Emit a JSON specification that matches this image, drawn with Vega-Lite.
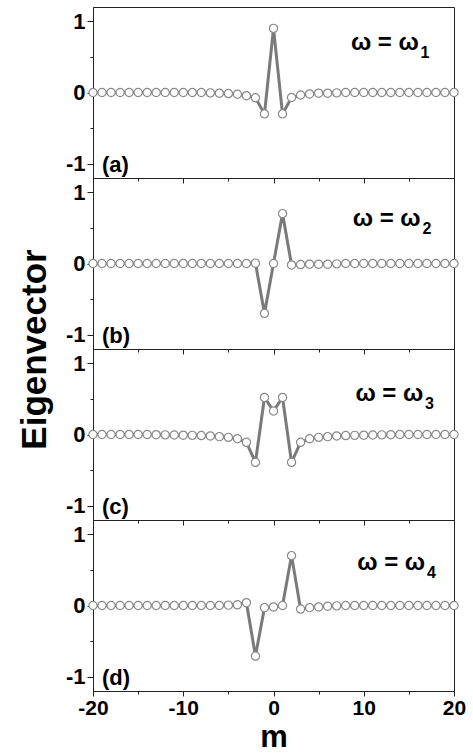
{
  "$schema": "https://vega.github.io/schema/vega-lite/v6.json",
  "background": "white",
  "padding": {"left": 16, "top": 6, "right": 5, "bottom": 0},
  "spacing": 0,
  "bounds": "flush",
  "datasets": {
    "labels": [
      {"p": "a", "tag": "(a)", "omega": "ω = ω", "sub": "1"},
      {"p": "b", "tag": "(b)", "omega": "ω = ω", "sub": "2"},
      {"p": "c", "tag": "(c)", "omega": "ω = ω", "sub": "3"},
      {"p": "d", "tag": "(d)", "omega": "ω = ω", "sub": "4"}
    ],
    "vec": [
      {"p":"a","m":-20,"v":0},{"p":"a","m":-19,"v":0},{"p":"a","m":-18,"v":0},{"p":"a","m":-17,"v":0},{"p":"a","m":-16,"v":0},{"p":"a","m":-15,"v":0},{"p":"a","m":-14,"v":0},{"p":"a","m":-13,"v":0},{"p":"a","m":-12,"v":0},{"p":"a","m":-11,"v":0},{"p":"a","m":-10,"v":0},{"p":"a","m":-9,"v":0},{"p":"a","m":-8,"v":0},{"p":"a","m":-7,"v":-0.005},{"p":"a","m":-6,"v":-0.01},{"p":"a","m":-5,"v":-0.015},{"p":"a","m":-4,"v":-0.025},{"p":"a","m":-3,"v":-0.045},{"p":"a","m":-2,"v":-0.075},{"p":"a","m":-1,"v":-0.3},{"p":"a","m":0,"v":0.9},{"p":"a","m":1,"v":-0.3},{"p":"a","m":2,"v":-0.07},{"p":"a","m":3,"v":-0.035},{"p":"a","m":4,"v":-0.02},{"p":"a","m":5,"v":-0.01},{"p":"a","m":6,"v":-0.01},{"p":"a","m":7,"v":-0.005},{"p":"a","m":8,"v":0},{"p":"a","m":9,"v":0},{"p":"a","m":10,"v":0},{"p":"a","m":11,"v":0},{"p":"a","m":12,"v":0},{"p":"a","m":13,"v":0},{"p":"a","m":14,"v":0},{"p":"a","m":15,"v":0},{"p":"a","m":16,"v":0},{"p":"a","m":17,"v":0},{"p":"a","m":18,"v":0},{"p":"a","m":19,"v":0},{"p":"a","m":20,"v":0},
      {"p":"b","m":-20,"v":0},{"p":"b","m":-19,"v":0},{"p":"b","m":-18,"v":0},{"p":"b","m":-17,"v":0},{"p":"b","m":-16,"v":0},{"p":"b","m":-15,"v":0},{"p":"b","m":-14,"v":0},{"p":"b","m":-13,"v":0},{"p":"b","m":-12,"v":0},{"p":"b","m":-11,"v":0},{"p":"b","m":-10,"v":0},{"p":"b","m":-9,"v":0},{"p":"b","m":-8,"v":0},{"p":"b","m":-7,"v":0},{"p":"b","m":-6,"v":0},{"p":"b","m":-5,"v":0},{"p":"b","m":-4,"v":0},{"p":"b","m":-3,"v":0},{"p":"b","m":-2,"v":0.005},{"p":"b","m":-1,"v":-0.7},{"p":"b","m":0,"v":0},{"p":"b","m":1,"v":0.7},{"p":"b","m":2,"v":-0.02},{"p":"b","m":3,"v":-0.015},{"p":"b","m":4,"v":-0.01},{"p":"b","m":5,"v":-0.01},{"p":"b","m":6,"v":-0.01},{"p":"b","m":7,"v":-0.005},{"p":"b","m":8,"v":0},{"p":"b","m":9,"v":0},{"p":"b","m":10,"v":0},{"p":"b","m":11,"v":0},{"p":"b","m":12,"v":0},{"p":"b","m":13,"v":0},{"p":"b","m":14,"v":0},{"p":"b","m":15,"v":0},{"p":"b","m":16,"v":0},{"p":"b","m":17,"v":0},{"p":"b","m":18,"v":0},{"p":"b","m":19,"v":0},{"p":"b","m":20,"v":0},
      {"p":"c","m":-20,"v":0},{"p":"c","m":-19,"v":0},{"p":"c","m":-18,"v":0},{"p":"c","m":-17,"v":0},{"p":"c","m":-16,"v":0},{"p":"c","m":-15,"v":0},{"p":"c","m":-14,"v":0},{"p":"c","m":-13,"v":-0.003},{"p":"c","m":-12,"v":-0.005},{"p":"c","m":-11,"v":-0.007},{"p":"c","m":-10,"v":-0.01},{"p":"c","m":-9,"v":-0.012},{"p":"c","m":-8,"v":-0.015},{"p":"c","m":-7,"v":-0.02},{"p":"c","m":-6,"v":-0.03},{"p":"c","m":-5,"v":-0.04},{"p":"c","m":-4,"v":-0.06},{"p":"c","m":-3,"v":-0.11},{"p":"c","m":-2,"v":-0.39},{"p":"c","m":-1,"v":0.52},{"p":"c","m":0,"v":0.33},{"p":"c","m":1,"v":0.52},{"p":"c","m":2,"v":-0.39},{"p":"c","m":3,"v":-0.11},{"p":"c","m":4,"v":-0.06},{"p":"c","m":5,"v":-0.04},{"p":"c","m":6,"v":-0.03},{"p":"c","m":7,"v":-0.02},{"p":"c","m":8,"v":-0.015},{"p":"c","m":9,"v":-0.012},{"p":"c","m":10,"v":-0.01},{"p":"c","m":11,"v":-0.007},{"p":"c","m":12,"v":-0.005},{"p":"c","m":13,"v":-0.003},{"p":"c","m":14,"v":0},{"p":"c","m":15,"v":0},{"p":"c","m":16,"v":0},{"p":"c","m":17,"v":0},{"p":"c","m":18,"v":0},{"p":"c","m":19,"v":0},{"p":"c","m":20,"v":0},
      {"p":"d","m":-20,"v":0},{"p":"d","m":-19,"v":0},{"p":"d","m":-18,"v":0},{"p":"d","m":-17,"v":0},{"p":"d","m":-16,"v":0},{"p":"d","m":-15,"v":0},{"p":"d","m":-14,"v":0},{"p":"d","m":-13,"v":0},{"p":"d","m":-12,"v":0},{"p":"d","m":-11,"v":0},{"p":"d","m":-10,"v":0},{"p":"d","m":-9,"v":0},{"p":"d","m":-8,"v":0},{"p":"d","m":-7,"v":0},{"p":"d","m":-6,"v":0},{"p":"d","m":-5,"v":0.005},{"p":"d","m":-4,"v":0.01},{"p":"d","m":-3,"v":0.04},{"p":"d","m":-2,"v":-0.71},{"p":"d","m":-1,"v":-0.03},{"p":"d","m":0,"v":-0.02},{"p":"d","m":1,"v":0},{"p":"d","m":2,"v":0.7},{"p":"d","m":3,"v":-0.05},{"p":"d","m":4,"v":-0.03},{"p":"d","m":5,"v":-0.02},{"p":"d","m":6,"v":-0.01},{"p":"d","m":7,"v":-0.005},{"p":"d","m":8,"v":0},{"p":"d","m":9,"v":0},{"p":"d","m":10,"v":0},{"p":"d","m":11,"v":0},{"p":"d","m":12,"v":0},{"p":"d","m":13,"v":0},{"p":"d","m":14,"v":0},{"p":"d","m":15,"v":0},{"p":"d","m":16,"v":0},{"p":"d","m":17,"v":0},{"p":"d","m":18,"v":0},{"p":"d","m":19,"v":0},{"p":"d","m":20,"v":0}
    ]
  },
  "vconcat": [
    {
      "width": 361, "height": 171,
      "layer": [
        {"data": {"name": "vec"}, "transform": [{"filter": "datum.p == 'a'"}],
         "mark": {"type": "line", "color": "#7a7a7a", "strokeWidth": 3},
         "encoding": {
           "x": {"field": "m", "type": "quantitative", "scale": {"domain": [-20, 20], "nice": false, "zero": false},
                 "axis": {"values": [-20,-15,-10,-5,0,5,10,15,20], "labels": false, "title": null, "tickSize": {"condition": {"test": "abs(datum.value) % 10 == 5", "value": 3}, "value": 5}}},
           "y": {"field": "v", "type": "quantitative", "scale": {"domain": [-1.2, 1.2], "nice": false},
                 "axis": {"values": [-1,-0.5,0,0.5,1], "title": null, "labelExpr": "abs(datum.value) == 0.5 ? '' : toString(datum.value)", "tickSize": {"condition": {"test": "abs(datum.value) == 0.5", "value": 3}, "value": 6}}}
         }},
        {"data": {"name": "vec"}, "transform": [{"filter": "datum.p == 'a'"}],
         "mark": {"type": "circle", "fill": "white", "stroke": "#8a8a8a", "strokeWidth": 1.2, "opacity": 1, "size": 68},
         "encoding": {"x": {"field": "m", "type": "quantitative", "scale": {"domain": [-20, 20], "nice": false, "zero": false}}, "y": {"field": "v", "type": "quantitative", "scale": {"domain": [-1.2, 1.2], "nice": false}}}},
        {"data": {"name": "labels"}, "transform": [{"filter": "datum.p == 'a'"}],
         "mark": {"type": "text", "align": "left", "baseline": "middle", "font": "Liberation Sans", "fontWeight": "bold", "fontSize": 22, "color": "black"},
         "encoding": {"x": {"datum": -19.0, "scale": {"domain": [-20, 20], "nice": false, "zero": false}}, "y": {"datum": -1.02, "scale": {"domain": [-1.2, 1.2], "nice": false}}, "text": {"field": "tag"}}},
        {"data": {"name": "labels"}, "transform": [{"filter": "datum.p == 'a'"}],
         "mark": {"type": "text", "align": "right", "baseline": "middle", "font": "Liberation Sans", "fontWeight": "bold", "fontSize": 24, "color": "black"},
         "encoding": {"x": {"datum": 16.1}, "y": {"datum": 0.7}, "text": {"field": "omega"}}},
        {"data": {"name": "labels"}, "transform": [{"filter": "datum.p == 'a'"}],
         "mark": {"type": "text", "align": "left", "baseline": "middle", "font": "Liberation Sans", "fontWeight": "bold", "fontSize": 16, "color": "black"},
         "encoding": {"x": {"datum": 16.3}, "y": {"datum": 0.56}, "text": {"field": "sub"}}}
      ]
    },
    {
      "width": 361, "height": 171,
      "layer": [
        {"data": {"name": "vec"}, "transform": [{"filter": "datum.p == 'b'"}],
         "mark": {"type": "line", "color": "#7a7a7a", "strokeWidth": 3},
         "encoding": {
           "x": {"field": "m", "type": "quantitative", "scale": {"domain": [-20, 20], "nice": false, "zero": false},
                 "axis": {"values": [-20,-15,-10,-5,0,5,10,15,20], "labels": false, "title": null, "tickSize": {"condition": {"test": "abs(datum.value) % 10 == 5", "value": 3}, "value": 5}}},
           "y": {"field": "v", "type": "quantitative", "scale": {"domain": [-1.2, 1.2], "nice": false},
                 "axis": {"values": [-1,-0.5,0,0.5,1], "title": "Eigenvector", "titleFontSize": 35, "titleY": 171, "titlePadding": 13, "labelExpr": "abs(datum.value) == 0.5 ? '' : toString(datum.value)", "tickSize": {"condition": {"test": "abs(datum.value) == 0.5", "value": 3}, "value": 6}}}
         }},
        {"data": {"name": "vec"}, "transform": [{"filter": "datum.p == 'b'"}],
         "mark": {"type": "circle", "fill": "white", "stroke": "#8a8a8a", "strokeWidth": 1.2, "opacity": 1, "size": 68},
         "encoding": {"x": {"field": "m", "type": "quantitative", "scale": {"domain": [-20, 20], "nice": false, "zero": false}}, "y": {"field": "v", "type": "quantitative", "scale": {"domain": [-1.2, 1.2], "nice": false}}}},
        {"data": {"name": "labels"}, "transform": [{"filter": "datum.p == 'b'"}],
         "mark": {"type": "text", "align": "left", "baseline": "middle", "font": "Liberation Sans", "fontWeight": "bold", "fontSize": 22, "color": "black"},
         "encoding": {"x": {"datum": -19.0, "scale": {"domain": [-20, 20], "nice": false, "zero": false}}, "y": {"datum": -1.02, "scale": {"domain": [-1.2, 1.2], "nice": false}}, "text": {"field": "tag"}}},
        {"data": {"name": "labels"}, "transform": [{"filter": "datum.p == 'b'"}],
         "mark": {"type": "text", "align": "right", "baseline": "middle", "font": "Liberation Sans", "fontWeight": "bold", "fontSize": 24, "color": "black"},
         "encoding": {"x": {"datum": 16.3}, "y": {"datum": 0.62}, "text": {"field": "omega"}}},
        {"data": {"name": "labels"}, "transform": [{"filter": "datum.p == 'b'"}],
         "mark": {"type": "text", "align": "left", "baseline": "middle", "font": "Liberation Sans", "fontWeight": "bold", "fontSize": 16, "color": "black"},
         "encoding": {"x": {"datum": 16.5}, "y": {"datum": 0.48}, "text": {"field": "sub"}}}
      ]
    },
    {
      "width": 361, "height": 171,
      "layer": [
        {"data": {"name": "vec"}, "transform": [{"filter": "datum.p == 'c'"}],
         "mark": {"type": "line", "color": "#7a7a7a", "strokeWidth": 3},
         "encoding": {
           "x": {"field": "m", "type": "quantitative", "scale": {"domain": [-20, 20], "nice": false, "zero": false},
                 "axis": {"values": [-20,-15,-10,-5,0,5,10,15,20], "labels": false, "title": null, "tickSize": {"condition": {"test": "abs(datum.value) % 10 == 5", "value": 3}, "value": 5}}},
           "y": {"field": "v", "type": "quantitative", "scale": {"domain": [-1.2, 1.2], "nice": false},
                 "axis": {"values": [-1,-0.5,0,0.5,1], "title": null, "labelExpr": "abs(datum.value) == 0.5 ? '' : toString(datum.value)", "tickSize": {"condition": {"test": "abs(datum.value) == 0.5", "value": 3}, "value": 6}}}
         }},
        {"data": {"name": "vec"}, "transform": [{"filter": "datum.p == 'c'"}],
         "mark": {"type": "circle", "fill": "white", "stroke": "#8a8a8a", "strokeWidth": 1.2, "opacity": 1, "size": 68},
         "encoding": {"x": {"field": "m", "type": "quantitative", "scale": {"domain": [-20, 20], "nice": false, "zero": false}}, "y": {"field": "v", "type": "quantitative", "scale": {"domain": [-1.2, 1.2], "nice": false}}}},
        {"data": {"name": "labels"}, "transform": [{"filter": "datum.p == 'c'"}],
         "mark": {"type": "text", "align": "left", "baseline": "middle", "font": "Liberation Sans", "fontWeight": "bold", "fontSize": 22, "color": "black"},
         "encoding": {"x": {"datum": -19.0, "scale": {"domain": [-20, 20], "nice": false, "zero": false}}, "y": {"datum": -1.02, "scale": {"domain": [-1.2, 1.2], "nice": false}}, "text": {"field": "tag"}}},
        {"data": {"name": "labels"}, "transform": [{"filter": "datum.p == 'c'"}],
         "mark": {"type": "text", "align": "right", "baseline": "middle", "font": "Liberation Sans", "fontWeight": "bold", "fontSize": 24, "color": "black"},
         "encoding": {"x": {"datum": 16.6}, "y": {"datum": 0.57}, "text": {"field": "omega"}}},
        {"data": {"name": "labels"}, "transform": [{"filter": "datum.p == 'c'"}],
         "mark": {"type": "text", "align": "left", "baseline": "middle", "font": "Liberation Sans", "fontWeight": "bold", "fontSize": 16, "color": "black"},
         "encoding": {"x": {"datum": 16.8}, "y": {"datum": 0.43}, "text": {"field": "sub"}}}
      ]
    },
    {
      "width": 361, "height": 171,
      "layer": [
        {"data": {"name": "vec"}, "transform": [{"filter": "datum.p == 'd'"}],
         "mark": {"type": "line", "color": "#7a7a7a", "strokeWidth": 3},
         "encoding": {
           "x": {"field": "m", "type": "quantitative", "scale": {"domain": [-20, 20], "nice": false, "zero": false},
                 "axis": {"values": [-20,-15,-10,-5,0,5,10,15,20], "title": "m", "titleFontSize": 31, "titlePadding": 4, "labelFontSize": 21, "labelFlush": false, "labelExpr": "abs(datum.value) % 10 == 5 ? '' : toString(datum.value)", "labelPadding": 1, "tickSize": {"condition": {"test": "abs(datum.value) % 10 == 5", "value": 3}, "value": 5}}},
           "y": {"field": "v", "type": "quantitative", "scale": {"domain": [-1.2, 1.2], "nice": false},
                 "axis": {"values": [-1,-0.5,0,0.5,1], "title": null, "labelExpr": "abs(datum.value) == 0.5 ? '' : toString(datum.value)", "tickSize": {"condition": {"test": "abs(datum.value) == 0.5", "value": 3}, "value": 6}}}
         }},
        {"data": {"name": "vec"}, "transform": [{"filter": "datum.p == 'd'"}],
         "mark": {"type": "circle", "fill": "white", "stroke": "#8a8a8a", "strokeWidth": 1.2, "opacity": 1, "size": 68},
         "encoding": {"x": {"field": "m", "type": "quantitative", "scale": {"domain": [-20, 20], "nice": false, "zero": false}}, "y": {"field": "v", "type": "quantitative", "scale": {"domain": [-1.2, 1.2], "nice": false}}}},
        {"data": {"name": "labels"}, "transform": [{"filter": "datum.p == 'd'"}],
         "mark": {"type": "text", "align": "left", "baseline": "middle", "font": "Liberation Sans", "fontWeight": "bold", "fontSize": 22, "color": "black"},
         "encoding": {"x": {"datum": -19.0, "scale": {"domain": [-20, 20], "nice": false, "zero": false}}, "y": {"datum": -1.02, "scale": {"domain": [-1.2, 1.2], "nice": false}}, "text": {"field": "tag"}}},
        {"data": {"name": "labels"}, "transform": [{"filter": "datum.p == 'd'"}],
         "mark": {"type": "text", "align": "right", "baseline": "middle", "font": "Liberation Sans", "fontWeight": "bold", "fontSize": 24, "color": "black"},
         "encoding": {"x": {"datum": 16.8}, "y": {"datum": 0.59}, "text": {"field": "omega"}}},
        {"data": {"name": "labels"}, "transform": [{"filter": "datum.p == 'd'"}],
         "mark": {"type": "text", "align": "left", "baseline": "middle", "font": "Liberation Sans", "fontWeight": "bold", "fontSize": 16, "color": "black"},
         "encoding": {"x": {"datum": 17.0}, "y": {"datum": 0.45}, "text": {"field": "sub"}}}
      ]
    }
  ],
  "config": {
    "view": {"stroke": "#222", "strokeWidth": 1},
    "axis": {"grid": false, "domainColor": "#222", "tickColor": "#222", "labelColor": "black", "titleColor": "black", "labelFont": "Liberation Sans", "labelFontWeight": "bold", "labelFontSize": 22, "titleFont": "Liberation Sans", "titleFontWeight": "bold", "labelPadding": 2}
  }
}
